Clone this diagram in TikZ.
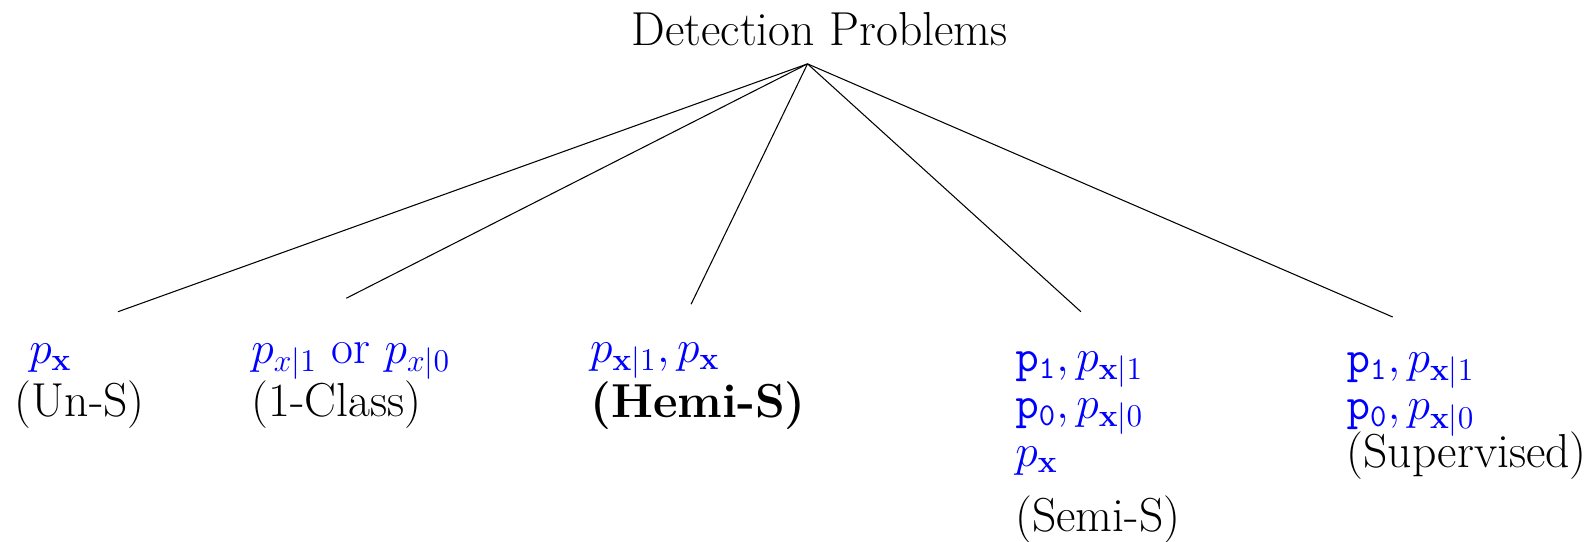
\documentclass[tikz,border=0pt]{standalone}
\usepackage{amsmath}
\usetikzlibrary{positioning}

\newcommand{\lblfont}{\fontsize{18.06}{17.9}\selectfont\lineskiplimit=-100pt\relax}

\begin{document}
\begin{tikzpicture}[
  lbl/.style={align=left, inner sep=0pt, anchor=base west, font=\lblfont},
  branch/.style={line width=0.4pt}]

\useasboundingbox (0,0) rectangle (21.18,-7.21);

\node[lbl, anchor=base] (title) at (10.91,-0.60) {Detection Problems};
\coordinate (root) at (10.75,-0.85);

% groups sit on the baseline of their last line
\node[lbl] (uns) at (0.19,-5.55) {\hspace*{5.5pt}\textcolor{blue}{$p_{\mathbf{x}}$}\\[2.3pt](Un-S)};
\node[lbl] (oneclass) at (3.34,-5.55) {\textcolor{blue}{$p_{x|1}$ or $p_{x|0}$}\\[2.5pt](1-Class)};
\node[lbl] (hemi) at (7.85,-5.56) {\textcolor{blue}{$p_{\mathbf{x}|1}, p_{\mathbf{x}}$}\\[3pt]\textbf{(Hemi-S)}};
\node[lbl] (semi) at (13.51,-7.07) {\textcolor{blue}{$\mathtt{p_1}, p_{\mathbf{x}|1}$}\\
  \textcolor{blue}{$\mathtt{p_0}, p_{\mathbf{x}|0}$}\\
  \textcolor{blue}{$p_{\mathbf{x}}$}\\[6.7pt](Semi-S)};
\node[lbl] (sup) at (17.92,-6.22) {\textcolor{blue}{$\mathtt{p_1}, p_{\mathbf{x}|1}$}\\
  \textcolor{blue}{$\mathtt{p_0}, p_{\mathbf{x}|0}$}\\(Supervised)};

% ends of the branches, just above each group
\coordinate (unsEnd) at (1.57,-4.15);
\coordinate (oneEnd) at (4.61,-3.97);
\coordinate (hemiEnd) at (9.20,-4.05);
\coordinate (semiEnd) at (14.39,-4.15);
\coordinate (supEnd) at (18.54,-4.22);

\draw[branch] (root) -- (unsEnd);
\draw[branch] (root) -- (oneEnd);
\draw[branch] (root) -- (hemiEnd);
\draw[branch] (root) -- (semiEnd);
\draw[branch] (root) -- (supEnd);

\end{tikzpicture}
\end{document}
